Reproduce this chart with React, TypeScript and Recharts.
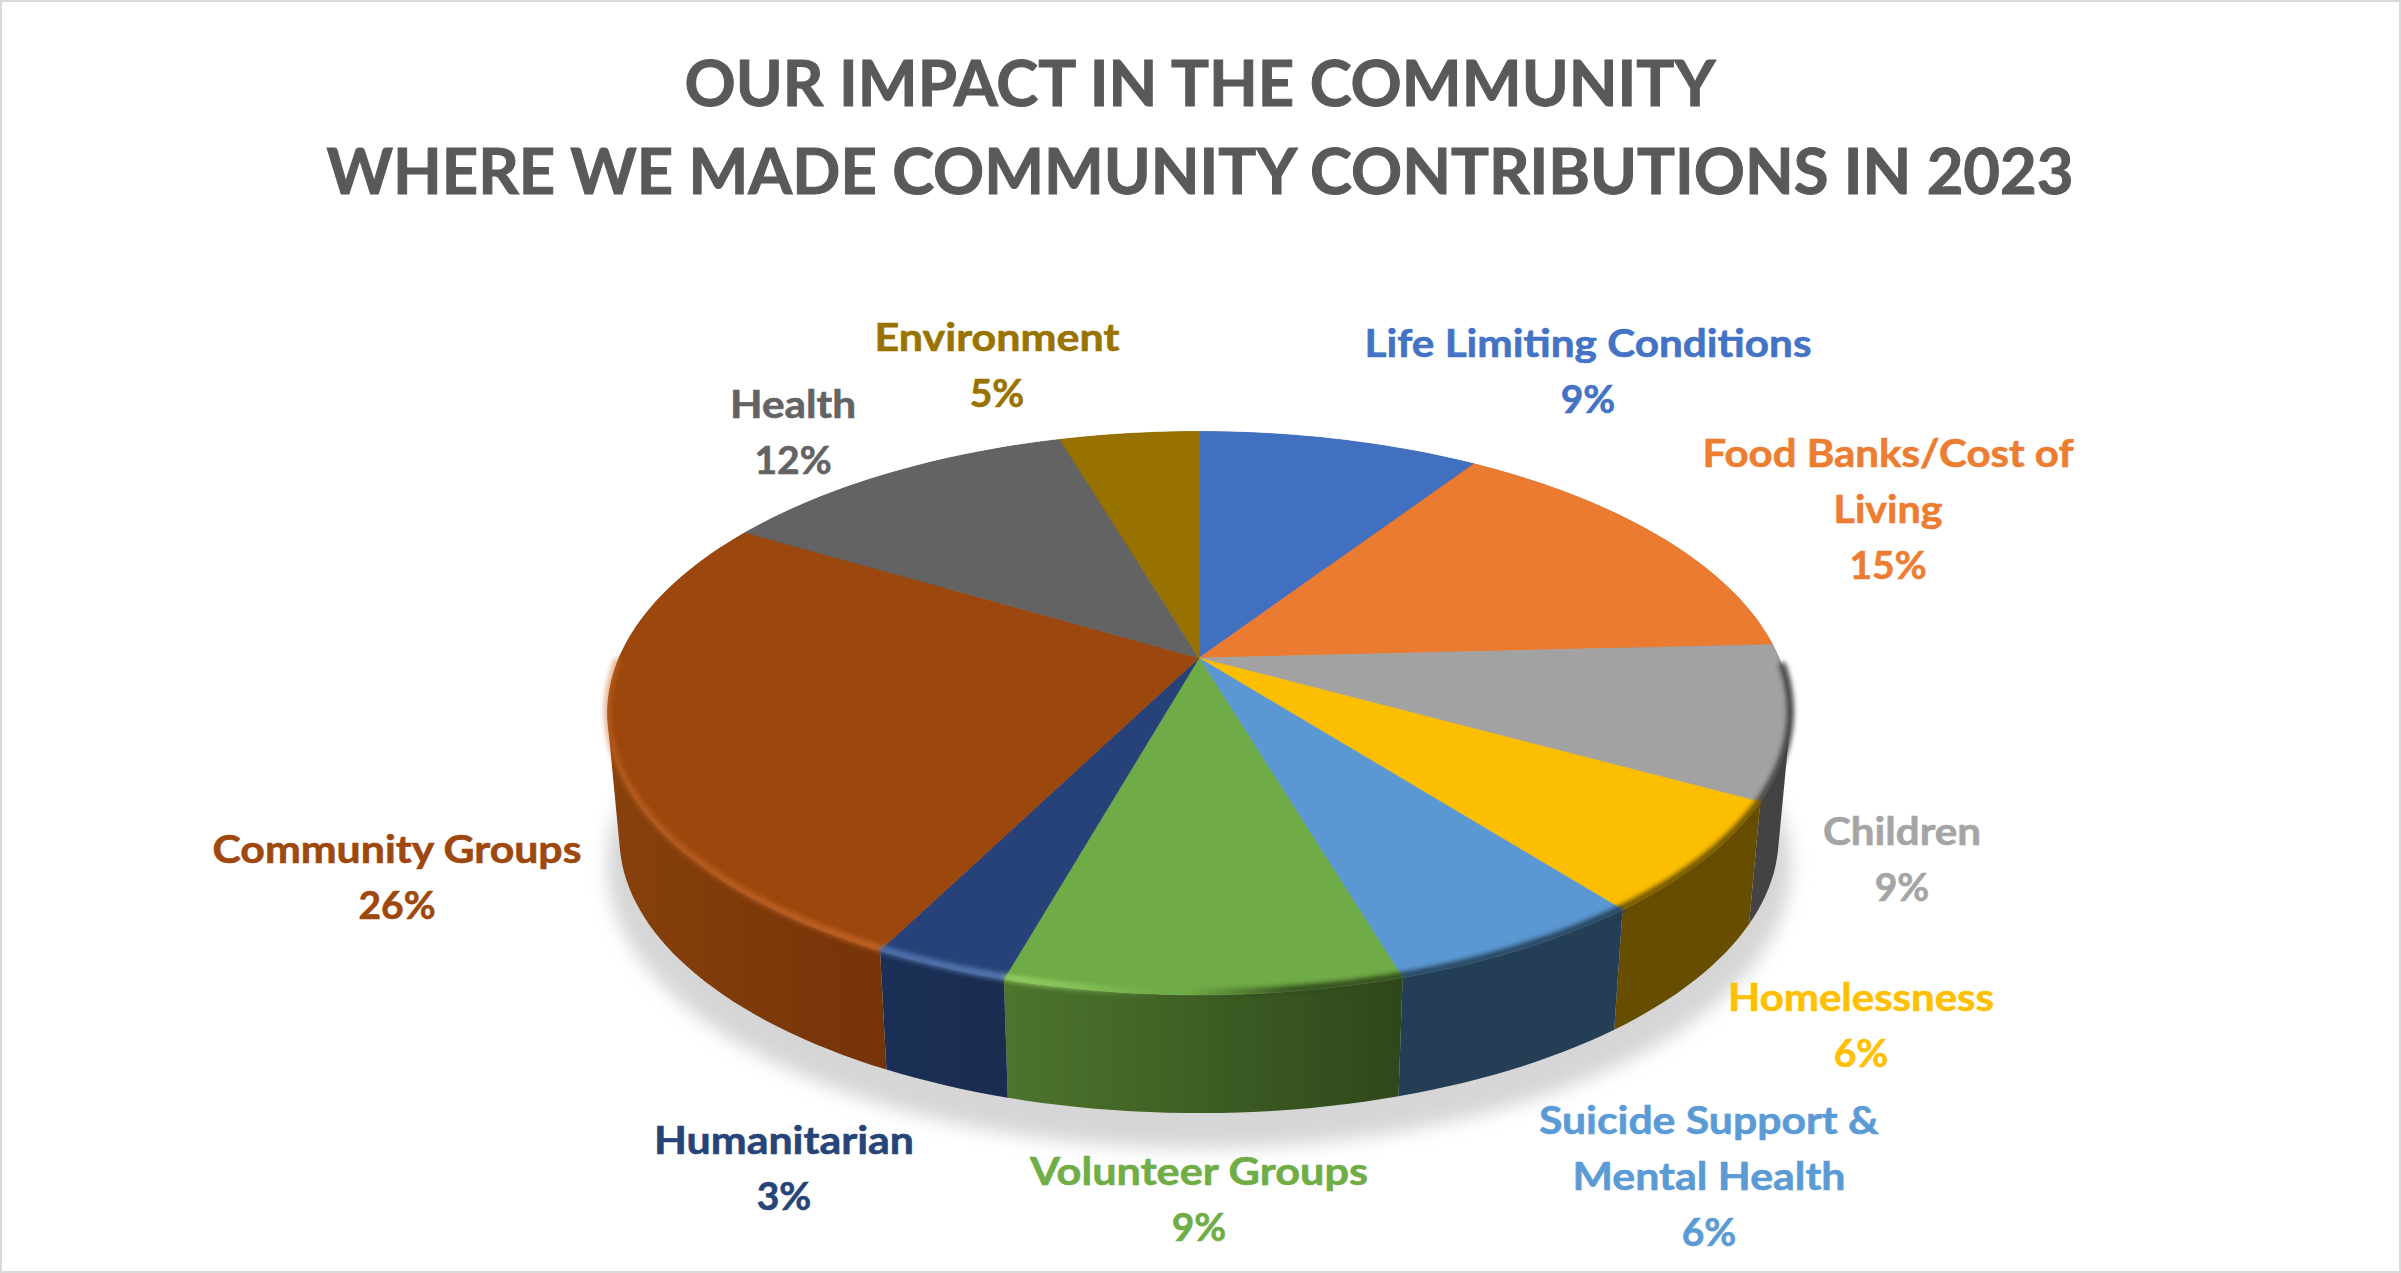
import { PieChart, Pie, Cell } from 'recharts'

const categories = [
  'Life Limiting Conditions', 'Food Banks/Cost of Living', 'Children', 'Homelessness',
  'Suicide Support & Mental Health', 'Volunteer Groups', 'Humanitarian', 'Community Groups', 'Health', 'Environment',
]
const shares = [9.3, 14.9, 8.8, 6.4, 6.0, 9.0, 3.1, 26.0, 11.9, 4.6]
const titleLines = ['OUR IMPACT IN THE COMMUNITY', 'WHERE WE MADE COMMUNITY CONTRIBUTIONS IN 2023']

const labelColors = ['#4472C4', '#ED7D31', '#A5A5A5', '#FFC000', '#5B9BD5', '#70AD47', '#264478', '#9E480E', '#636363', '#997300']
const topColors = ['#4270C0', '#EB7B31', '#A2A2A2', '#FBBE00', '#5B98D3', '#6FAB46', '#264278', '#9C470D', '#636363', '#977200']
const wallFrom = ['#2a4680', '#8a4a1c', '#444444', '#664D00', '#243F55', '#4D752D', '#1B3056', '#88410C', '#3c3c3c', '#5c4500']
const wallTo = ['#2a4680', '#8a4a1c', '#424242', '#664D00', '#243F55', '#2F471B', '#1A2C4F', '#753308', '#3c3c3c', '#5c4500']
const rimTint = ['#4472C4', '#ED7D31', '#A5A5A5', '#FFC000', '#5B9BD5', '#97D268', '#5F82BE', '#CC6C2C', '#636363', '#997300']

// hand placed labels, like the dragged ones in the original
const labelLayout = [
  { x: 1588, y: 357, lines: [['Life Limiting Conditions', 447]] },
  { x: 1888, y: 467, lines: [['Food Banks/Cost of', 371], ['Living', 109]] },
  { x: 1902, y: 845, lines: [['Children', 158]] },
  { x: 1861, y: 1011, lines: [['Homelessness', 266]] },
  { x: 1709, y: 1134, lines: [['Suicide Support &', 340], ['Mental Health', 273]] },
  { x: 1199, y: 1185, lines: [['Volunteer Groups', 338]] },
  { x: 784, y: 1154, lines: [['Humanitarian', 260]] },
  { x: 397, y: 863, lines: [['Community Groups', 369]] },
  { x: 793, y: 418, lines: [['Health', 126]] },
  { x: 997, y: 351, lines: [['Environment', 245]] },
]

const W = 2401
const H = 1273
const FONT = 'Lato, sans-serif'
const CX = 1199
const CY = 658
const RADIUS = 580
const TILT = 0.467
const PERSP = 0.196
const DEPTH = 125
const BOTTOM_SCALE = 0.98

const data = categories.map((name, i) => ({ name, value: shares[i] }))

// the "3d" look: map a point of the flat pie onto the tilted disc
function project(cx: number, cy: number, r: number, angle: number, drop = 0, scale = 1) {
  const rad = (angle * Math.PI) / 180
  const u = Math.cos(rad)
  const v = -Math.sin(rad)
  const d = 1 - PERSP * v
  return [cx + (r * scale * u) / d, cy + drop + (r * TILT * scale * v) / d]
}

function arcAngles(p: any) {
  const steps = Math.max(2, Math.ceil(Math.abs(p.endAngle - p.startAngle) / 1.5))
  const out: number[] = []
  for (let i = 0; i <= steps; i++) out.push(p.startAngle + ((p.endAngle - p.startAngle) * i) / steps)
  return out
}

function arcPoints(p: any, drop = 0, scale = 1) {
  return arcAngles(p).map(a => project(p.cx, p.cy, p.outerRadius, a, drop, scale))
}

const toPath = (pts: number[][]) => 'M' + pts.map(q => `${q[0].toFixed(1)},${q[1].toFixed(1)}`).join('L')

function TopSlice(p: any) {
  const pts = arcPoints(p)
  return <path d={toPath([[p.cx, p.cy], ...pts]) + 'Z'} fill={p.fill} stroke={p.fill} strokeWidth={0.6} />
}

function ShadowSlice(p: any) {
  const pts = arcPoints(p, DEPTH + 28, 1)
  return <path d={toPath([[p.cx, p.cy + DEPTH + 28], ...pts]) + 'Z'} fill="#d6d6d6" stroke="#d6d6d6" />
}

function WallSlice(p: any, i: number) {
  const idx = p.index ?? i
  const top = arcPoints(p)
  const bottom = arcPoints(p, DEPTH, BOTTOM_SCALE)
  // one quad per step so the side silhouette stays straight
  let d = ''
  for (let k = 0; k < top.length - 1; k++) {
    const quad = [top[k], top[k + 1], bottom[k + 1], bottom[k]]
    const area = quad.reduce((s, q, n) => {
      const r = quad[(n + 1) % 4]
      return s + q[0] * r[1] - r[0] * q[1]
    }, 0)
    d += toPath(area < 0 ? quad.slice().reverse() : quad) + 'Z'
  }
  return (
    <g>
      <defs>
        <linearGradient id={`wall${idx}`} x1="0" x2="1" y1="0" y2="0">
          <stop offset="0" stopColor={wallFrom[idx]} />
          <stop offset="1" stopColor={wallTo[idx]} />
        </linearGradient>
      </defs>
      <path d={d} fill={`url(#wall${idx})`} stroke="none" />
    </g>
  )
}

// soft bevel on the front rim: tinted on the left, fading into the wall on the right
function RimSlice(p: any, i: number) {
  const idx = p.index ?? i
  const angles = arcAngles(p)
  const pts = arcPoints(p, -2).filter((_, k) => Math.sin((angles[k] * Math.PI) / 180) < 0.0)
  if (pts.length < 2) return <g />
  const left = CX - RADIUS * 1.02
  const right = CX + RADIUS * 1.02
  return (
    <g>
      <defs>
        <linearGradient id={`rim${idx}`} gradientUnits="userSpaceOnUse" x1={left} x2={right} y1="0" y2="0">
          <stop offset="0" stopColor={rimTint[idx]} stopOpacity="0.5" />
          <stop offset="0.36" stopColor={rimTint[idx]} stopOpacity="0.9" />
          <stop offset="0.47" stopColor={rimTint[idx]} stopOpacity="0" />
          <stop offset="0.49" stopColor={wallTo[idx]} stopOpacity="0" />
          <stop offset="0.58" stopColor={wallTo[idx]} stopOpacity="1" />
          <stop offset="1" stopColor={wallTo[idx]} stopOpacity="1" />
        </linearGradient>
      </defs>
      <path d={toPath(pts)} fill="none" stroke={`url(#rim${idx})`} strokeWidth={7} />
    </g>
  )
}

function SliceLabel(p: any) {
  const layout = labelLayout[p.index]
  const color = labelColors[p.index]
  const step = 56
  return (
    <text fontFamily={FONT} fontWeight={700} fontSize={39} fill={color} stroke={color} strokeWidth={0.6} textAnchor="middle">
      {layout.lines.map((l: any, k: number) => (
        <tspan key={k} x={layout.x} y={layout.y + k * step} textLength={l[1]} lengthAdjust="spacingAndGlyphs">{l[0]}</tspan>
      ))}
      <tspan x={layout.x} y={layout.y + layout.lines.length * step}>{`${Math.round(p.percent * 100)}%`}</tspan>
    </text>
  )
}

const pieProps = {
  data,
  dataKey: 'value',
  nameKey: 'name',
  cx: CX,
  cy: CY,
  outerRadius: RADIUS,
  startAngle: 90,
  endAngle: -270,
  stroke: 'none',
  isAnimationActive: false,
}

export default function App() {
  return (
    <div style={{ position: 'absolute', left: 0, top: 0, width: W, height: H, background: '#fff', boxSizing: 'border-box', border: '2px solid #d9d9d9', overflow: 'hidden' }}>
      <style>{'.pie-shadow{filter:blur(9px)}.pie-rim{filter:blur(2.5px)}'}</style>
      <div style={{ position: 'absolute', left: -2, top: -2 }}>
        <PieChart width={W} height={H} margin={{ top: 0, right: 0, bottom: 0, left: 0 }}>
          <text x={CX + 1} y={106} textAnchor="middle" fontFamily={FONT} fontWeight={700} fontSize={64} fill="#595959" stroke="#595959" strokeWidth={1} textLength={1031} lengthAdjust="spacingAndGlyphs">{titleLines[0]}</text>
          <text x={CX + 1} y={194} textAnchor="middle" fontFamily={FONT} fontWeight={700} fontSize={64} fill="#595959" stroke="#595959" strokeWidth={1} textLength={1747} lengthAdjust="spacingAndGlyphs">{titleLines[1]}</text>
          <Pie {...pieProps} className="pie-shadow" shape={ShadowSlice} />
          <Pie {...pieProps} shape={WallSlice} />
          <Pie {...pieProps} shape={TopSlice} label={SliceLabel} labelLine={false}>
            {data.map((d, i) => (
              <Cell key={d.name} fill={topColors[i]} />
            ))}
          </Pie>
          <Pie {...pieProps} className="pie-rim" shape={RimSlice} />
        </PieChart>
      </div>
    </div>
  )
}
